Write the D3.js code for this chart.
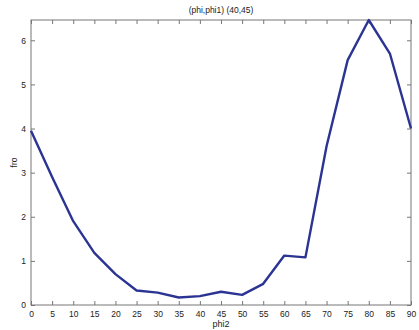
<!DOCTYPE html>
<html><head><meta charset="utf-8">
<script src="https://cdn.jsdelivr.net/npm/d3@7"></script>
<style>body{margin:0;background:#fff}svg{display:block}text{font-family:"Liberation Sans",Arial,sans-serif;fill:#222}</style>
</head><body>
<script>
const phi2 = [0,5,10,15,20,25,30,35,40,45,50,55,60,65,70,75,80,85,90];
const fro = [3.95,2.9,1.9,1.18,0.7,0.33,0.28,0.17,0.2,0.3,0.23,0.48,1.12,1.08,3.6,5.55,6.46,5.7,4.0];
const xTicks = [0,5,10,15,20,25,30,35,40,45,50,55,60,65,70,75,80,85,90];
const yTicks = [0,1,2,3,4,5,6];
const title = "(phi,phi1) (40,45)";
const xLabel = "phi2", yLabel = "fro";

const W=419,H=330, m={l:31,r:8,t:20,b:25};
const svg=d3.select("body").append("svg").attr("width",W).attr("height",H);
const x=d3.scaleLinear().domain([0,90]).range([m.l,W-m.r]);
const y=d3.scaleLinear().domain([0,6.46]).range([H-m.b,m.t]);
svg.append("rect").attr("x",m.l).attr("y",m.t).attr("width",W-m.l-m.r).attr("height",H-m.t-m.b).attr("fill","#fff").attr("stroke","#777").attr("stroke-width",1);
const fs="8.5px";
const gx=svg.append("g").attr("transform",`translate(0,${H-m.b})`).call(d3.axisBottom(x).tickValues(xTicks).tickSize(-4).tickPadding(6));
const gxt=svg.append("g").attr("transform",`translate(0,${m.t})`).call(d3.axisTop(x).tickValues(xTicks).tickSize(-4).tickFormat(""));
const gy=svg.append("g").attr("transform",`translate(${m.l},0)`).call(d3.axisLeft(y).tickValues(yTicks).tickFormat(d3.format("d")).tickSize(-4).tickPadding(5));
const gyr=svg.append("g").attr("transform",`translate(${W-m.r},0)`).call(d3.axisRight(y).tickValues(yTicks).tickSize(-4).tickFormat(""));
[gx,gxt,gy,gyr].forEach(g=>{g.select(".domain").remove();g.selectAll("line").attr("stroke","#777");g.selectAll("text").style("font-size",fs).attr("fill","#222").style("font-family","Liberation Sans, Arial, sans-serif");});
svg.append("path").datum(phi2.map((d,i)=>[d,fro[i]])).attr("fill","none").attr("stroke","#2b3492").attr("stroke-width",2.4).attr("stroke-linejoin","round")
 .attr("d",d3.line().x(d=>x(d[0])).y(d=>y(d[1])));
svg.append("text").attr("x",(m.l+W-m.r)/2).attr("y",13).attr("text-anchor","middle").style("font-size",fs).text(title);
svg.append("text").attr("x",(m.l+W-m.r)/2).attr("y",327).attr("text-anchor","middle").style("font-size","9px").text(xLabel);
svg.append("text").attr("transform",`translate(17,${(m.t+H-m.b)/2}) rotate(-90)`).attr("text-anchor","middle").style("font-size",fs).text(yLabel);
</script>
</body></html>
